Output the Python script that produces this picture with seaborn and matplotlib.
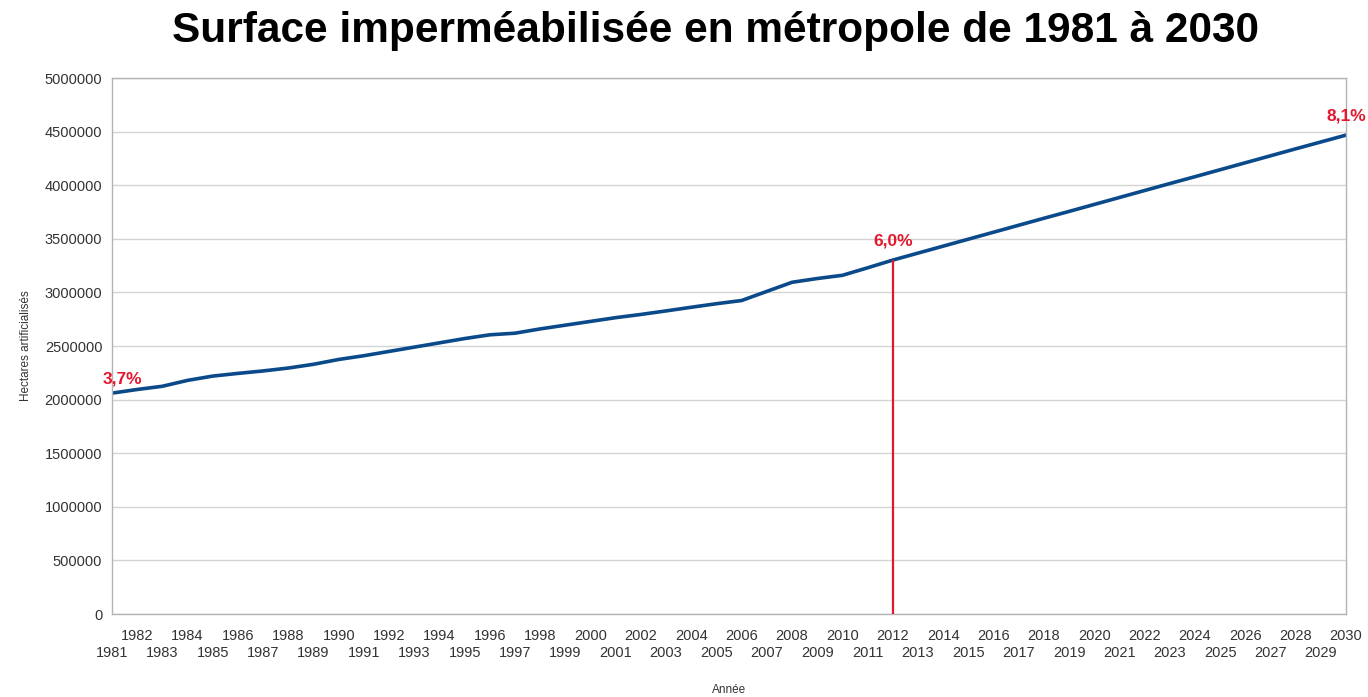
import pandas as pd
import seaborn as sns
import matplotlib.pyplot as plt

# données
annees = list(range(1981, 2031))
hectares = [2061000, 2095000, 2125000, 2180000, 2220000, 2245000, 2268000, 2295000,
            2330000, 2375000, 2410000, 2450000, 2490000, 2530000, 2570000, 2605000,
            2620000, 2660000, 2695000, 2730000, 2765000, 2795000, 2828000, 2862000,
            2895000, 2925000, 3010000, 3095000, 3130000, 3160000, 3230000, 3302000,
            3367000, 3432000, 3497000, 3562000, 3627000, 3692000, 3756000, 3821000,
            3886000, 3951000, 4016000, 4080000, 4145000, 4210000, 4275000, 4340000,
            4404000, 4468000]
annees_repere = [1981, 2012, 2030]
pourcentages = ["3,7%", "6,0%", "8,1%"]

df = pd.DataFrame({"Année": annees, "Hectares": hectares})

sns.set_theme(style="whitegrid")
plt.rcParams['font.family'] = ['Liberation Sans', 'DejaVu Sans']

fig = plt.figure(figsize=(13.68, 6.97), dpi=100)
ax = fig.add_axes([0.0819, 0.119, 0.9021, 0.769])

bleu = '#0b4a8a'
rouge = '#e3182d'
gris = '#b3b3b3'

sns.lineplot(x="Année", y="Hectares", data=df, color=bleu, linewidth=2.6, ax=ax)

# ligne verticale en 2012
v2012 = hectares[annees.index(2012)]
ax.vlines(2012, 0, v2012, color=rouge, linewidth=1.6, zorder=3)

# étiquettes en pourcentage
decalages = [(-7, 5, 'left'), (0, 8, 'center'), (0, 8, 'center')]
for an, txt, (dx, dy, ha) in zip(annees_repere, pourcentages, decalages):
    ax.annotate(txt, (an, hectares[annees.index(an)]), xytext=(dx, dy),
                textcoords='offset points', color=rouge, fontsize=12.5,
                fontweight='bold', ha=ha, va='bottom', annotation_clip=False)

ax.set_xlim(1981, 2030)
ax.set_ylim(0, 5000000)
ax.set_yticks(range(0, 5000001, 500000))
ax.set_yticklabels([str(v) for v in range(0, 5000001, 500000)], fontsize=10.5, color='#333333')

ax.set_xticks(annees)
ax.set_xticklabels([str(a) for a in annees], fontsize=10.5, color='#333333')

ax.grid(axis='y', color='#d4d4d4', linewidth=1)
ax.grid(axis='x', visible=False)
for s in ax.spines.values():
    s.set_color(gris)
    s.set_linewidth(1)
ax.tick_params(axis='both', which='major', length=5, color=gris, width=1, pad=2)
ax.tick_params(axis='x', pad=6)

# années alternées sur deux lignes : impaires plus bas
for a, t in zip(annees, ax.xaxis.get_major_ticks()):
    if a % 2 == 1:
        t.set_pad(18)

ax.set_xlabel("Année", fontsize=8.5, color='#333333')
ax.xaxis.set_label_coords(0.5, -0.142)
ax.xaxis.label.set_va('center')
ax.set_ylabel("Hectares artificialisés", fontsize=8.5, color='#333333', labelpad=9)

fig.suptitle("Surface imperméabilisée en métropole de 1981 à 2030",
             fontsize=30.5, fontweight='bold', color='black',
             x=0.523, y=0.956, va='center')

plt.savefig("out.png", dpi=100, facecolor='white')
